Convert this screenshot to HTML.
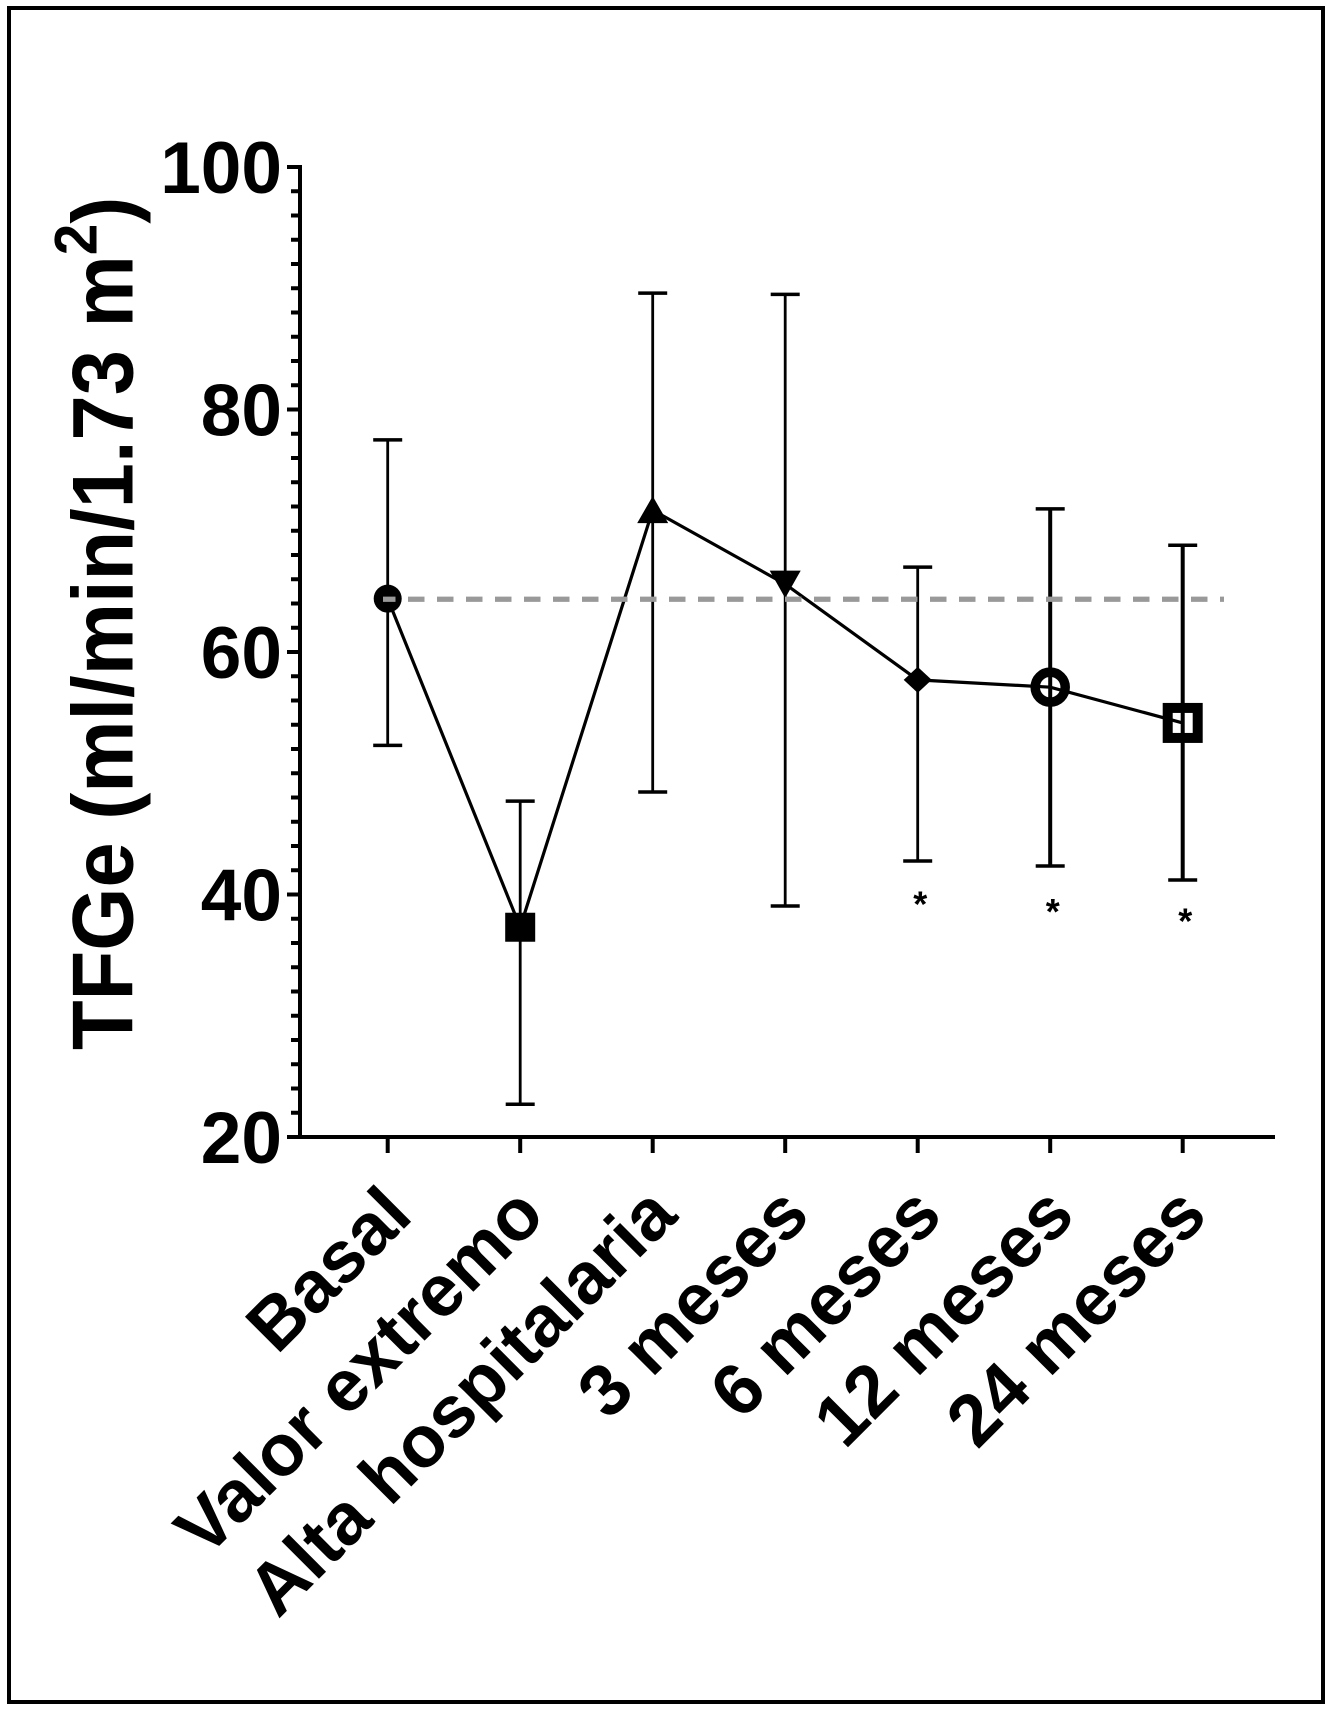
<!DOCTYPE html>
<html lang="es">
<head>
<meta charset="utf-8">
<title>TFGe</title>
<style>
html,body{margin:0;padding:0;background:#fff;}
svg{display:block;}
text{font-family:"Liberation Sans",Arial,sans-serif;font-weight:bold;fill:#000;}
</style>
</head>
<body>
<svg id="chart" xmlns="http://www.w3.org/2000/svg" width="1333" height="1712" viewBox="0 0 1333 1712">
  <rect x="0" y="0" width="1333" height="1712" fill="#fff"/>
  <rect x="9" y="8" width="1314" height="1694" fill="none" stroke="#000" stroke-width="4"/>
  <text transform="translate(132.5,1050) rotate(-90) scale(0.945,1)" font-size="86">TFGe (ml/min/1.73 m<tspan font-size="60" dy="-36">2</tspan><tspan dy="36">)</tspan></text>
  <g id="grid-layer"></g>
  <g id="error-layer"></g>
  <g id="line-layer"></g>
  <g id="marker-layer"></g>
  <g id="ref-layer"></g>
  <g id="star-layer"></g>
</svg>
<script>
const categories = ["Basal", "Valor extremo", "Alta hospitalaria", "3 meses", "6 meses", "12 meses", "24 meses"];
const means = [64.4, 37.3, 71.7, 65.6, 57.7, 57.1, 54.15];
const upperErrors = [77.5, 47.7, 89.6, 89.5, 67.0, 71.8, 68.8];
const lowerErrors = [52.3, 22.7, 48.45, 39.05, 42.76, 42.35, 41.2];
const yTickLabels = [20, 40, 60, 80, 100];
const minorStep = 2;
const referenceValue = 64.35;
const markerKinds = ["circle", "square", "triangle-up", "triangle-down", "diamond", "open-circle", "open-square"];
const significantCategories = [4, 5, 6];
const significanceValues = [39.5, 38.9, 38.1];

const NS = "http://www.w3.org/2000/svg";
const yMin = 20, yMax = 100;
const yTop = 167, yBottom = 1137;
const xFirst = 387.7, xStep = 132.5, axisX = 300;
function xPos(i) { return xFirst + i * xStep; }
function yPos(v) { return yBottom - (v - yMin) * (yBottom - yTop) / (yMax - yMin); }
function make(tag, attrs, parent) {
  const el = document.createElementNS(NS, tag);
  for (const k in attrs) el.setAttribute(k, attrs[k]);
  parent.appendChild(el);
  return el;
}
const gridLayer = document.getElementById("grid-layer");
const errorLayer = document.getElementById("error-layer");
const lineLayer = document.getElementById("line-layer");
const markerLayer = document.getElementById("marker-layer");
const refLayer = document.getElementById("ref-layer");
const starLayer = document.getElementById("star-layer");

// axes
const yAxis = make("line", {x1: axisX, x2: axisX, y1: yPos(yMax) - 2, y2: yBottom + 2, stroke: "#000", "stroke-width": 4}, gridLayer);


const xAxis = make("line", {x1: 288, x2: 1275, y1: yBottom, y2: yBottom, stroke: "#000", "stroke-width": 4}, gridLayer);



for (let v = yMin + minorStep; v < yMax; v += minorStep) {
  if (yTickLabels.indexOf(v) >= 0) continue;
  const minor = make("line", {x1: 291, x2: axisX, y1: yPos(v), y2: yPos(v), stroke: "#000", "stroke-width": 4}, gridLayer);
  
  
}
yTickLabels.forEach(function (v) {
  const tick = make("line", {x1: 287, x2: axisX, y1: yPos(v), y2: yPos(v), stroke: "#000", "stroke-width": 4}, gridLayer);
  
  
  const label = make("text", {x: 282, y: yPos(v) + 26, "text-anchor": "end", "font-size": 73}, gridLayer);
  label.textContent = v;
  
  
});
categories.forEach(function (c, i) {
  const tick = make("line", {x1: xPos(i), x2: xPos(i), y1: yBottom, y2: 1153, stroke: "#000", "stroke-width": 4}, gridLayer);
  
  
  const tx = xPos(i) + 27, ty = 1218;
  const label = make("text", {x: 0, y: 0, "text-anchor": "end", "font-size": 73, transform: "translate(" + tx + "," + ty + ") rotate(-45)"}, gridLayer);
  label.textContent = c;
  
  
});

// error bars
categories.forEach(function (c, i) {
  const sw = i >= 5 ? 4 : 2.8;
  const x = xPos(i), yu = yPos(upperErrors[i]), yl = yPos(lowerErrors[i]);
  const stem = make("line", {x1: x, x2: x, y1: yu, y2: yl, stroke: "#000", "stroke-width": sw}, errorLayer);
  
  
  const capTop = make("line", {x1: x - 14.5, x2: x + 14.5, y1: yu, y2: yu, stroke: "#000", "stroke-width": 3.5}, errorLayer);
  
  
  const capBottom = make("line", {x1: x - 14.5, x2: x + 14.5, y1: yl, y2: yl, stroke: "#000", "stroke-width": 3.5}, errorLayer);
  
  
});

// mean line
const meanLine = make("polyline", {
  points: means.map(function (m, i) { return xPos(i) + "," + yPos(m); }).join(" "),
  fill: "none", stroke: "#000", "stroke-width": 3.2
}, lineLayer);



// markers
function drawMarker(kind, x, y) {
  if (kind === "circle") return make("circle", {cx: x, cy: y, r: 14, fill: "#000"}, markerLayer);
  if (kind === "square") return make("rect", {x: x - 15, y: y - 14.5, width: 30, height: 29, fill: "#000"}, markerLayer);
  if (kind === "triangle-up") return make("polygon", {points: (x) + "," + (y - 14) + " " + (x + 15.5) + "," + (y + 13) + " " + (x - 15.5) + "," + (y + 13), fill: "#000"}, markerLayer);
  if (kind === "triangle-down") return make("polygon", {points: (x) + "," + (y + 14) + " " + (x + 15.5) + "," + (y - 13.5) + " " + (x - 15.5) + "," + (y - 13.5), fill: "#000"}, markerLayer);
  if (kind === "diamond") return make("polygon", {points: (x) + "," + (y - 13) + " " + (x + 14) + "," + y + " " + (x) + "," + (y + 13) + " " + (x - 14) + "," + y, fill: "#000"}, markerLayer);
  if (kind === "open-circle") return make("circle", {cx: x, cy: y, r: 15, fill: "none", stroke: "#000", "stroke-width": 9.5}, markerLayer);
  return make("rect", {x: x - 15, y: y - 15, width: 30, height: 30, fill: "none", stroke: "#000", "stroke-width": 10}, markerLayer);
}
means.forEach(function (m, i) {
  const mk = drawMarker(markerKinds[i], xPos(i), yPos(m));
  
  
});

// reference dashed line
const refLine = make("line", {
  x1: 383, x2: 1224, y1: yPos(referenceValue), y2: yPos(referenceValue),
  stroke: "#999", "stroke-width": 5.2, "stroke-dasharray": "16.5 12.5", "stroke-dashoffset": 4
}, refLayer);



// significance marks
significantCategories.forEach(function (idx, k) {
  const star = make("text", {x: xPos(idx) + 2.5, y: yPos(significanceValues[k]) + 16, "text-anchor": "middle", "font-size": 36}, starLayer);
  star.textContent = "*";
  
  
});
</script>
</body>
</html>
